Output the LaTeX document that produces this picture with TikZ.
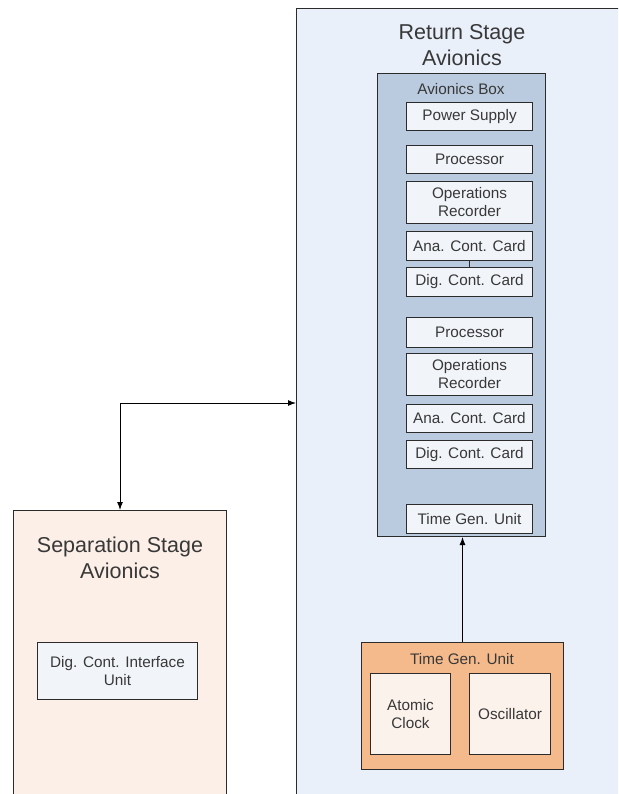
\documentclass[tikz,border=0pt]{standalone}
\usepackage{fontspec}
\setmainfont{Liberation Sans}
\usetikzlibrary{
  arrows.meta,
  positioning,
}
\definecolor{retblue}{HTML}{EAF0FA}
\definecolor{boxblue}{HTML}{BACBDF}
\definecolor{cardfill}{HTML}{F1F4F9}
\definecolor{sepfill}{HTML}{FCEFE7}
\definecolor{tgorange}{HTML}{F5BA8C}
\definecolor{clockfill}{HTML}{FCF2EC}
\definecolor{linegray}{HTML}{2B2B2B}
\definecolor{textgray}{HTML}{383838}

\begin{document}
\begin{tikzpicture}[x=1pt, y=-1pt,
    box/.style={draw=linegray, line width=1pt, inner sep=0pt, anchor=north west},
    card/.style={box, fill=cardfill, minimum width=126pt, minimum height=28pt,
      align=center, text=textgray, font=\fontsize{15.3}{18}\selectfont},
    title/.style={align=center, text=textgray, font=\fontsize{21.5}{26}\selectfont},
    label/.style={text=textgray, font=\fontsize{15.3}{18}\selectfont},
    link/.style={line width=1pt, draw=black}]
      \useasboundingbox (0,0) rectangle (618,794);
      \clip (0,0) rectangle (618,794);

      % return stage
      \node [box, fill=retblue, minimum width=340pt, minimum height=800pt] (ret) at (296,8) {};
      \node [title] (rettitle) at (462,45) {Return Stage\\Avionics};
      \node [box, fill=boxblue, minimum width=168pt, minimum height=463pt] (avbox) at (377,73) {};
      \node [label] (avlabel) at (461,89) {Avionics Box};
      \node [card] (pwr) at (406,102) {Power Supply};
      \node [card, below=14pt of pwr] (proc1) {Processor};
      \node [card, minimum height=42pt, below=7pt of proc1] (rec1) {Operations\\Recorder};
      \node [card, minimum height=29pt, below=7pt of rec1] (ana1) {Ana. Cont. Card};
      \node [card, minimum height=29pt, below=6pt of ana1] (dig1) {Dig. Cont. Card};
      \node [card, minimum height=30pt, below=20pt of dig1] (proc2) {Processor};
      \node [card, minimum height=42pt, below=5pt of proc2] (rec2) {Operations\\Recorder};
      \node [card, below=8pt of rec2] (ana2) {Ana. Cont. Card};
      \node [card, below=7pt of ana2] (dig2) {Dig. Cont. Card};
      \node [card, minimum height=29pt, below=35pt of dig2] (tgucard) {Time Gen. Unit};
      \draw [draw=linegray, line width=1pt] (ana1.south) -- (dig1.north);

      % time generation unit
      \node [box, fill=tgorange, minimum width=202pt, minimum height=127pt] (tgu) at (361,642) {};
      \node [label] (tgulabel) at (462,659) {Time Gen. Unit};
      \node [card, fill=clockfill, minimum width=80pt, minimum height=81pt] (clock) at (370,673) {Atomic\\Clock};
      \node [card, fill=clockfill, minimum width=81pt, minimum height=81pt] (osc) at (469,673) {Oscillator};

      % separation stage
      \node [box, fill=sepfill, minimum width=213pt, minimum height=300pt] (sep) at (13,510) {};
      \node [title] (septitle) at (120,558) {Separation Stage\\Avionics};
      \node [card, minimum width=160pt, minimum height=57pt] (dcu) at (37,642) {Dig. Cont. Interface\\Unit};

      % links
      \coordinate (bend) at (119.5,403);
      \draw [link, {Latex[length=8pt,width=6pt]}-{Latex[length=8pt,width=6pt]}]
        (sep.north) |- (ret.west |- bend);
      \draw [link, -{Latex[length=8pt,width=6pt]}] (tgu.north) -- (tgu.north |- avbox.south);
    \end{tikzpicture}
\end{document}
